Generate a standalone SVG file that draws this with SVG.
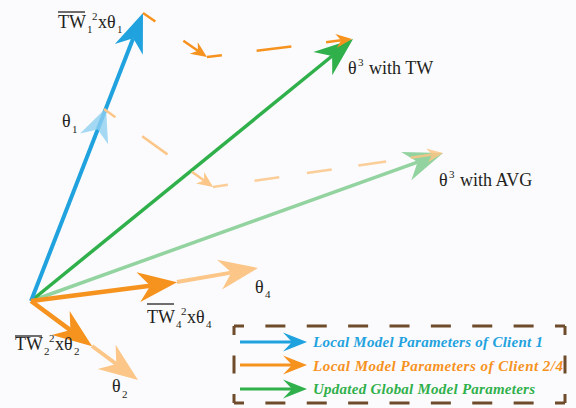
<svg xmlns="http://www.w3.org/2000/svg" width="576" height="408" viewBox="0 0 576 408">
<style>
.lbl{font-family:"Liberation Serif","Times New Roman",serif;font-size:18px;fill:#231f20}
.s{font-size:11px}
.leg{font-family:"Liberation Serif","Times New Roman",serif;font-size:15px;font-style:italic;font-weight:bold}
.ov{stroke:#231f20;stroke-width:1.3}
.box{stroke:#6e4b2a;stroke-width:3;fill:none}
.ln{fill:none;stroke-linecap:butt}
</style>
<defs>
<marker id="hBlue" markerUnits="userSpaceOnUse" markerWidth="1" markerHeight="1" refX="0" refY="0" orient="auto" overflow="visible"><path d="M27,0 L-12,-15 L0,0 L-12,15 Z" fill="#1fa2de"/></marker>
<marker id="hGreen" markerUnits="userSpaceOnUse" markerWidth="1" markerHeight="1" refX="0" refY="0" orient="auto" overflow="visible"><path d="M27,0 L-12,-15 L0,0 L-12,15 Z" fill="#30b04b"/></marker>
<marker id="hGreenL" markerUnits="userSpaceOnUse" markerWidth="1" markerHeight="1" refX="0" refY="0" orient="auto" overflow="visible"><path d="M27,0 L-12,-15 L0,0 L-12,15 Z" fill="#93d3a0"/></marker>
<marker id="hOrange" markerUnits="userSpaceOnUse" markerWidth="1" markerHeight="1" refX="0" refY="0" orient="auto" overflow="visible"><path d="M27,0 L-12,-15 L0,0 L-12,15 Z" fill="#f6921e"/></marker>
<marker id="hOrangeL" markerUnits="userSpaceOnUse" markerWidth="1" markerHeight="1" refX="0" refY="0" orient="auto" overflow="visible"><path d="M27,0 L-12,-15 L0,0 L-12,15 Z" fill="#fbc687"/></marker>
<marker id="sOrange" markerUnits="userSpaceOnUse" markerWidth="1" markerHeight="1" refX="0" refY="0" orient="auto" overflow="visible"><path d="M11,0 L-5,-7 L0,0 L-5,7 Z" fill="#f6921e"/></marker>
<marker id="sOrangeL" markerUnits="userSpaceOnUse" markerWidth="1" markerHeight="1" refX="0" refY="0" orient="auto" overflow="visible"><path d="M11,0 L-5,-7 L0,0 L-5,7 Z" fill="#fbc687"/></marker>
<marker id="lBlue" markerUnits="userSpaceOnUse" markerWidth="1" markerHeight="1" refX="0" refY="0" orient="auto" overflow="visible"><path d="M15,0 L-9,-9.5 L0,0 L-9,9.5 Z" fill="#1fa2de"/></marker>
<marker id="lOrange" markerUnits="userSpaceOnUse" markerWidth="1" markerHeight="1" refX="0" refY="0" orient="auto" overflow="visible"><path d="M15,0 L-9,-9.5 L0,0 L-9,9.5 Z" fill="#f6921e"/></marker>
<marker id="lGreen" markerUnits="userSpaceOnUse" markerWidth="1" markerHeight="1" refX="0" refY="0" orient="auto" overflow="visible"><path d="M15,0 L-9,-9.5 L0,0 L-9,9.5 Z" fill="#30b04b"/></marker>
</defs>
<rect width="576" height="408" fill="#fbfbfd"/>

<g id="connectors">
  <path class="ln" d="M31,301 L417.6,162.1" stroke="#93d3a0" stroke-width="3.5" marker-end="url(#hGreenL)"/>
  <path class="ln" d="M31,301 L332.1,56" stroke="#30b04b" stroke-width="3.5" marker-end="url(#hGreen)"/>
  <path class="ln" d="M31,301 L133.2,38.2" stroke="#1fa2de" stroke-width="4" marker-end="url(#hBlue)"/>
  <polygon points="106,108 80.1,133.4 97.7,129.4 108.1,144.2" fill="#8fd0f0" opacity="0.8"/>
  <path class="ln" d="M177,282 L231.4,272.6" stroke="#fbc687" stroke-width="4" marker-end="url(#hOrangeL)"/>
  <path class="ln" d="M31,301 L150.3,285.7" stroke="#f6921e" stroke-width="4.5" marker-end="url(#hOrange)"/>
  <path class="ln" d="M92,346 L116.3,364" stroke="#fbc687" stroke-width="4" marker-end="url(#hOrangeL)"/>
  <path class="ln" d="M31,301 L70.4,330.1" stroke="#f6921e" stroke-width="4.5" marker-end="url(#hOrange)"/>
  <path class="ln" d="M143,13 L197.9,50.8" stroke="#f6921e" stroke-width="2.5" stroke-dasharray="15 34 40" marker-end="url(#sOrange)"/>
  <path class="ln" d="M207,57 L341.1,40.3" stroke="#f6921e" stroke-width="2.5" stroke-dasharray="15 35 35 35 40" marker-end="url(#sOrange)"/>
  <path class="ln" d="M104,109 L204.1,180.6" stroke="#fbc687" stroke-width="2.5" stroke-dasharray="14 33 31 30 40" marker-end="url(#sOrangeL)"/>
  <path class="ln" d="M213,187 L432.1,154.6" stroke="#fbc687" stroke-width="2.5" stroke-dasharray="15 27 25 28 25 27 28 25 40" marker-end="url(#sOrangeL)" opacity="0.85"/>
</g>

<g id="label-tw1">
  <line class="ov" x1="58" y1="12" x2="85" y2="12"/>
  <text class="lbl" x="58" y="28">TW<tspan class="s" x="87" y="33">1</tspan><tspan class="s" x="92" y="20">2</tspan><tspan x="98" y="28">xθ</tspan><tspan class="s" x="117" y="33">1</tspan></text>
</g>
<g id="label-theta1"><text class="lbl" x="62" y="127">θ<tspan class="s" x="72" y="133">1</tspan></text></g>
<g id="label-tw">
  <text class="lbl" x="348" y="74">θ<tspan class="s" x="358" y="66">3</tspan><tspan x="369" y="74">with TW</tspan></text>
</g>
<g id="label-avg">
  <text class="lbl" x="439" y="186">θ<tspan class="s" x="449" y="178">3</tspan><tspan x="460" y="186">with AVG</tspan></text>
</g>
<g id="label-theta4"><text class="lbl" x="255" y="293">θ<tspan class="s" x="265" y="298">4</tspan></text></g>
<g id="label-tw4">
  <line class="ov" x1="147" y1="304" x2="174" y2="304"/>
  <text class="lbl" x="147" y="323">TW<tspan class="s" x="176" y="328">4</tspan><tspan class="s" x="181" y="315">2</tspan><tspan x="187" y="323">xθ</tspan><tspan class="s" x="206" y="328">4</tspan></text>
</g>
<g id="label-tw2">
  <line class="ov" x1="15" y1="336" x2="42" y2="336"/>
  <text class="lbl" x="15" y="350">TW<tspan class="s" x="44" y="355">2</tspan><tspan class="s" x="49" y="342">2</tspan><tspan x="55" y="350">xθ</tspan><tspan class="s" x="74" y="355">2</tspan></text>
</g>
<g id="label-theta2"><text class="lbl" x="112" y="392">θ<tspan class="s" x="122" y="398">2</tspan></text></g>

<g id="legend">
  <line class="box" x1="234" y1="326" x2="565" y2="326" stroke-dasharray="20 21.375" stroke-dashoffset="10"/>
  <line class="box" x1="234" y1="403" x2="565" y2="403" stroke-dasharray="20 21.375" stroke-dashoffset="10"/>
  <line class="box" x1="234" y1="326" x2="234" y2="403" stroke-dasharray="18 20.5" stroke-dashoffset="9"/>
  <line class="box" x1="565" y1="326" x2="565" y2="403" stroke-dasharray="18 20.5" stroke-dashoffset="9"/>
  <path class="ln" d="M240,342 L292,342" stroke="#1fa2de" stroke-width="3" marker-end="url(#lBlue)"/>
  <path class="ln" d="M240,365 L292,365" stroke="#f6921e" stroke-width="3" marker-end="url(#lOrange)"/>
  <path class="ln" d="M240,389 L292,389" stroke="#30b04b" stroke-width="3" marker-end="url(#lGreen)"/>
  <text class="leg" x="313" y="347" fill="#1fa2de" textLength="230" lengthAdjust="spacing">Local Model Parameters of Client 1</text>
  <text class="leg" x="313" y="371" fill="#f6921e" textLength="250" lengthAdjust="spacing">Local Model Parameters of Client 2/4</text>
  <text class="leg" x="313" y="394" fill="#30b04b" textLength="222" lengthAdjust="spacing">Updated Global Model Parameters</text>
</g>
</svg>
